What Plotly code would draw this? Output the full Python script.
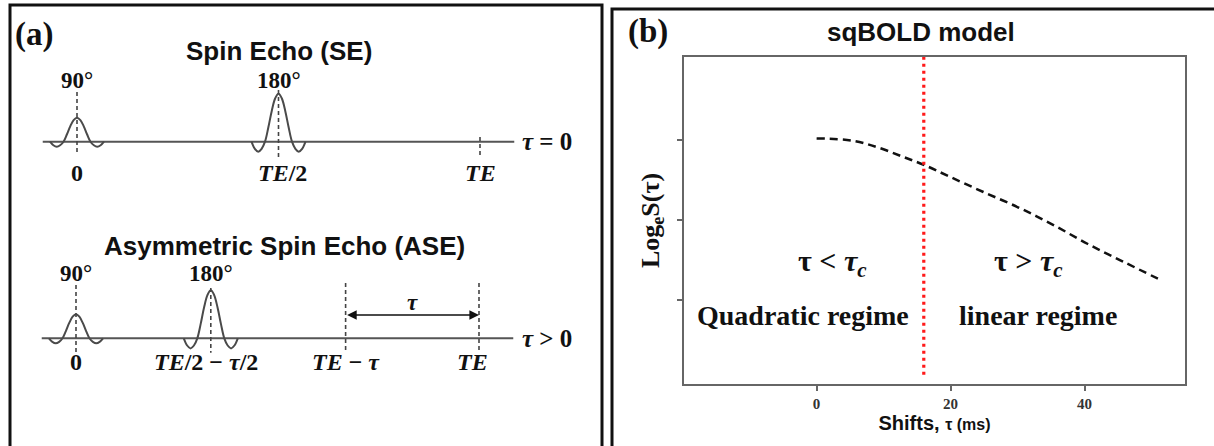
import plotly.graph_objects as go

W, H = 1214, 446


def fx(px):
    return px / W


def fy(py):
    return 1 - py / H


# ---------------- Panel (b) data ----------------
tau_ms = [0, 5.5, 9.4, 12.9, 16.0, 19.9, 24.9, 30.3, 35.3, 40.5, 46.0, 51.6]
log_signal = [0.02, -0.01, -0.10, -0.21, -0.31, -0.46, -0.65, -0.85, -1.06, -1.30, -1.53, -1.76]
tau_c = 16.0
x_ticks = [0, 20, 40]
x_tick_labels = ["0", "20", "40"]
y_ticks = [0, -1, -2]
regime_labels = ["Quadratic regime", "linear regime"]
regime_conditions = ["τ < <i>τ</i><sub><i>c</i></sub>", "τ > <i>τ</i><sub><i>c</i></sub>"]

# ---------------- Panel (a) data (times in units of TE) ----------------
se_pulse_times = [0.0, 0.5]
se_pulse_flips = [90, 180]
se_time_labels = ["0", "<i>TE</i>/2", "<i>TE</i>"]
se_label_times = [0.0, 0.51, 1.0]
ase_tau = 0.331
ase_pulse_times = [0.0, (1 - ase_tau) / 2]
ase_pulse_flips = [90, 180]
ase_time_labels = ["0", "<i>TE</i>/2 − <i>τ</i>/2", "<i>TE</i> − <i>τ</i>", "<i>TE</i>"]
ase_label_times = [0.0, 0.323, 1 - ase_tau, 0.985]
flip_labels = ["90°", "180°"]

# sinc-like RF pulse outline (lobe units, amplitude per 90°)
pulse_shape_u = [-2, -1.75, -1.5, -1.25, -1, -0.75, -0.5, -0.25, 0, 0.25, 0.5, 0.75, 1, 1.25, 1.5, 1.75, 2]
pulse_shape_a = [0, -0.15, -0.21, -0.15, 0, 0.3, 0.64, 0.9, 1, 0.9, 0.64, 0.3, 0, -0.15, -0.21, -0.15, 0]

# ---------------- layout constants ----------------
SERIF = "Liberation Serif"
SANS = "Liberation Sans"
LOBE_W = 0.0335
GRAY = "#444444"

fig = go.Figure()

# ---- Panel (b): sqBOLD curve ----
fig.add_trace(go.Scatter(
    x=tau_ms, y=log_signal, mode="lines", line=dict(color="#111111", width=2.5, dash="8px,5px", shape="spline"),
    xaxis="x", yaxis="y", showlegend=False, hoverinfo="skip"))
fig.add_trace(go.Scatter(
    x=[tau_c, tau_c], y=[1.04, -2.975], mode="lines",
    line=dict(color="#ff1a1a", width=3.2, dash="3px,4px"),
    xaxis="x", yaxis="y", showlegend=False, hoverinfo="skip"))

# ---- Panel (a): pulse sequences ----
rows = [
    dict(ax="2", times=se_pulse_times, flips=se_pulse_flips),
    dict(ax="3", times=ase_pulse_times, flips=ase_pulse_flips),
]
for r in rows:
    fig.add_trace(go.Scatter(x=[-0.085, 1.085], y=[0, 0], mode="lines",
                             line=dict(color="#555555", width=2), xaxis="x" + r["ax"], yaxis="y" + r["ax"],
                             showlegend=False, hoverinfo="skip"))
    for t, flip in zip(r["times"], r["flips"]):
        fig.add_trace(go.Scatter(
            x=[t + u * LOBE_W for u in pulse_shape_u],
            y=[a * flip / 90 for a in pulse_shape_a],
            mode="lines", line=dict(color="#4a4a4a", width=2, shape="spline"),
            xaxis="x" + r["ax"], yaxis="y" + r["ax"], showlegend=False, hoverinfo="skip"))

# dashed markers
se_marks = [(se_pulse_times[0], 2.07, -0.55), (se_pulse_times[1], 2.15, -0.64), (1.0, 0.2, -0.55)]
ase_marks = [(ase_pulse_times[0], 2.22, -0.6), (ase_pulse_times[1], 2.1, -0.6),
             (1 - ase_tau, 2.3, -0.6), (1.0, 2.3, -0.6)]
for ax, marks in (("2", se_marks), ("3", ase_marks)):
    for t, top, bot in marks:
        fig.add_trace(go.Scatter(x=[t, t], y=[top, bot], mode="lines",
                                 line=dict(color=GRAY, width=1.6, dash="4px,3px"),
                                 xaxis="x" + ax, yaxis="y" + ax, showlegend=False, hoverinfo="skip"))

annotations = []


def ann(text, x, y, xref, yref, size, family, **kw):
    d = dict(text=text, x=x, y=y, xref=xref, yref=yref, showarrow=False,
             xanchor="center", yanchor="middle",
             font=dict(size=size, family=family, color="#111111"))
    d.update(kw)
    annotations.append(d)


# panel labels and titles
ann("<b>(a)</b>", fx(34), fy(34), "paper", "paper", 33, SERIF)
ann("<b>(b)</b>", fx(648), fy(32), "paper", "paper", 33, SERIF)
ann("<b>Spin Echo (SE)</b>", fx(279), fy(51), "paper", "paper", 26, SANS)
ann("<b>Asymmetric Spin Echo (ASE)</b>", fx(284), fy(246), "paper", "paper", 26, SANS)
ann("<b>sqBOLD model</b>", fx(921), fy(32), "paper", "paper", 26, SANS)

# SE labels
for t, lab in zip(se_pulse_times, flip_labels):
    ann("<b>" + lab + "</b>", t, 2.57, "x2", "y2", 23, SERIF)
for t, lab in zip(se_label_times, se_time_labels):
    ann("<b>" + lab + "</b>", t, -1.3, "x2", "y2", 24, SERIF)
ann("<b><i>τ</i> = 0</b>", 1.166, 0.0, "x2", "y2", 25, SERIF)

# ASE labels
for t, lab in zip(ase_pulse_times, flip_labels):
    ann("<b>" + lab + "</b>", t, 2.72, "x3", "y3", 23, SERIF)
for t, lab in zip(ase_label_times, ase_time_labels):
    ann("<b>" + lab + "</b>", t, -0.99, "x3", "y3", 24, SERIF)
ann("<b><i>τ</i> > 0</b>", 1.169, 0.0, "x3", "y3", 25, SERIF)
ann("<b><i>τ</i></b>", (1 - ase_tau + 1.0) / 2, 1.51, "x3", "y3", 23, SERIF)
annotations.append(dict(x=1.0, y=0.97, ax=1 - ase_tau, ay=0.97, xref="x3", yref="y3", axref="x3", ayref="y3",
                        text="", showarrow=True, arrowhead=2, arrowside="end+start", arrowsize=1.2,
                        arrowwidth=1.6, arrowcolor="#111111", standoff=0, startstandoff=0))

# panel (b) region labels
ann("<b>" + regime_conditions[0] + "</b>", 2.3, -1.54, "x", "y", 30, SERIF)
ann("<b>" + regime_conditions[1] + "</b>", 31.6, -1.54, "x", "y", 30, SERIF)
ann("<b>" + regime_labels[0] + "</b>", -2.0, -2.19, "x", "y", 28, SERIF)
ann("<b>" + regime_labels[1] + "</b>", 33.1, -2.19, "x", "y", 28, SERIF)

# panel borders
shapes = [
    dict(type="rect", xref="paper", yref="paper", x0=fx(10), x1=fx(602), y0=fy(452), y1=fy(5),
         line=dict(color="#111111", width=3)),
    dict(type="rect", xref="paper", yref="paper", x0=fx(612), x1=fx(1220), y0=fy(452), y1=fy(9),
         line=dict(color="#111111", width=3)),
]

hidden = dict(visible=False, showgrid=False, zeroline=False, fixedrange=True)

fig.update_layout(
    width=W, height=H, autosize=False,
    margin=dict(l=0, r=0, t=0, b=0, pad=0),
    paper_bgcolor="white", plot_bgcolor="rgba(0,0,0,0)",
    showlegend=False,
    xaxis=dict(domain=[fx(684), fx(1185)], range=[-19.8, 55.0], tickvals=x_ticks,
               ticktext=["<b>" + t + "</b>" for t in x_tick_labels],
               ticks="outside", ticklen=5, tickwidth=1.5, tickcolor="#666666",
               showline=True, mirror=True, linecolor="#666666", linewidth=2,
               showgrid=False, zeroline=False,
               tickfont=dict(family=SERIF, size=15, color="#333333"),
               title=dict(text="<b>Shifts, <span style='font-size:16px'>τ (ms)</span></b>",
                          font=dict(family=SANS, size=20, color="#111111"), standoff=2)),
    yaxis=dict(domain=[fy(384), fy(57)], range=[-3.05, 1.0375], tickvals=y_ticks, showticklabels=False,
               ticks="outside", ticklen=5, tickwidth=1.5, tickcolor="#666666",
               showline=True, mirror=True, linecolor="#666666", linewidth=2,
               showgrid=False, zeroline=False,
               title=dict(text="<b>Log<sub>e</sub>S(τ)</b>", font=dict(family=SERIF, size=26, color="#111111"),
                          standoff=10)),
    xaxis2=dict(domain=[fx(10), fx(602)], range=[(10 - 77) / 403, (602 - 77) / 403], anchor="y2", **hidden),
    yaxis2=dict(domain=[fy(200), fy(60)], range=[(141.7 - 200) / 24, (141.7 - 60) / 24], anchor="x2", **hidden),
    xaxis3=dict(domain=[fx(10), fx(602)], range=[(10 - 76) / 403, (602 - 76) / 403], anchor="y3", **hidden),
    yaxis3=dict(domain=[fy(400), fy(255)], range=[(338.3 - 400) / 24, (338.3 - 255) / 24], anchor="x3", **hidden),
    annotations=annotations,
    shapes=shapes,
)

fig.write_html("out.html")
